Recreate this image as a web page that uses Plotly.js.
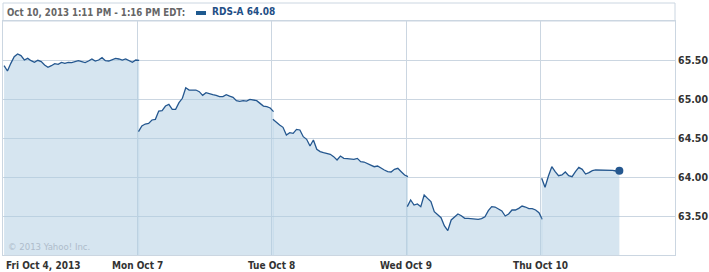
<!DOCTYPE html>
<html>
<head>
<meta charset="utf-8">
<script src="https://cdn.plot.ly/plotly-3.0.1.min.js"></script>
<style>
html,body{margin:0;padding:0;background:#fff;}
#chart{width:709px;height:272px;}
</style>
</head>
<body>
<div id="chart"></div>
<script>
// ---- data ----
const dayLabels = ['Fri Oct 4, 2013', 'Mon Oct 7', 'Tue Oct 8', 'Wed Oct 9', 'Thu Oct 10'];
const yTicks = [63.5, 64.0, 64.5, 65.0, 65.5];
const headerText = 'Oct 10, 2013 1:11 PM - 1:16 PM EDT:';
const seriesName = 'RDS-A';
const lastPrice = 64.08;
const copyright = '\u00A9 2013 Yahoo! Inc.';

const fri = [65.427, 65.359, 65.457, 65.543, 65.577, 65.556, 65.500, 65.521, 65.491, 65.470,
             65.496, 65.479, 65.436, 65.406, 65.427, 65.453, 65.444, 65.470, 65.457, 65.470,
             65.466, 65.479, 65.491, 65.479, 65.466, 65.487, 65.513, 65.487, 65.500, 65.530,
             65.491, 65.487, 65.500, 65.521, 65.513, 65.500, 65.513, 65.487, 65.470, 65.500, 65.496];
const mon = [64.581, 64.654, 64.679, 64.688, 64.731, 64.739, 64.846, 64.850, 64.910, 64.932,
             64.868, 64.868, 64.953, 65.009, 65.145, 65.115, 65.115, 65.115, 65.094, 65.047,
             65.081, 65.064, 65.056, 65.047, 65.030, 65.030, 65.056, 65.038, 65.021, 64.979,
             64.970, 64.979, 64.974, 64.996, 64.987, 64.979, 64.944, 64.910, 64.902, 64.885, 64.838];
const tue = [64.739, 64.697, 64.667, 64.637, 64.538, 64.568, 64.560, 64.611, 64.603, 64.517,
             64.483, 64.397, 64.474, 64.355, 64.325, 64.312, 64.303, 64.291, 64.261, 64.218,
             64.269, 64.239, 64.235, 64.231, 64.226, 64.239, 64.197, 64.192, 64.175, 64.154,
             64.132, 64.141, 64.111, 64.090, 64.068, 64.064, 64.098, 64.111, 64.068, 64.026, 64.004];
const wed = [63.620, 63.705, 63.641, 63.654, 63.620, 63.769, 63.726, 63.684, 63.556, 63.521,
             63.479, 63.372, 63.312, 63.449, 63.491, 63.526, 63.504, 63.470, 63.470, 63.466,
             63.457, 63.457, 63.466, 63.491, 63.568, 63.620, 63.615, 63.586, 63.564, 63.500,
             63.526, 63.577, 63.577, 63.598, 63.628, 63.615, 63.594, 63.594, 63.577, 63.543, 63.457];
const thu = [63.983, 63.868, 64.013, 64.132, 64.068, 64.017, 64.026, 64.064, 64.017, 64.004,
             64.068, 64.124, 64.098, 64.038, 64.056, 64.081, 64.090, 64.090, 64.090, 64.090,
             64.090, 64.085, 64.077, 64.080];

// sampling: one value every 10 minutes of a 390-minute session
const sessionMinutes = 390;
const stepMinutes = 10;
const days = [fri, mon, tue, wed, thu];

// ---- styles ----
const fontFam = 'Verdana, "DejaVu Sans Condensed", "DejaVu Sans", sans-serif';
const lineColor = '#24578f';
const fillColor = 'rgba(173,203,225,0.5)';
const gridColor = '#cbd6e1';
const labelFont = {family: fontFam, size: 10, color: '#333333', weight: 700};

const traces = days.map((vals, d) => ({
  type: 'scatter',
  mode: 'lines',
  x: vals.map((v, i) => d + 0.008 + (i * stepMinutes / sessionMinutes) * 0.98),
  y: vals,
  line: {color: lineColor, width: 1.3},
  fill: 'tozeroy',
  fillcolor: fillColor,
  hoverinfo: 'skip',
  showlegend: false
}));

// last point marker
const lastX = traces[4].x[traces[4].x.length - 1];
traces.push({
  type: 'scatter', mode: 'markers',
  x: [lastX], y: [thu[thu.length - 1]],
  marker: {color: lineColor, size: 8},
  showlegend: false, hoverinfo: 'skip'
});

const annotations = dayLabels.map((t, d) => ({
  text: t, xref: 'x', yref: 'paper', x: d, y: -0.043,
  xanchor: d === 0 ? 'left' : 'center', yanchor: 'middle',
  xshift: d === 0 ? 1 : 0,
  showarrow: false, font: labelFont
}));
annotations.push({
  text: seriesName + ' ' + lastPrice.toFixed(2), xref: 'paper', yref: 'paper',
  x: 0, y: 1.04, xanchor: 'left', yanchor: 'middle', xshift: 207,
  showarrow: false,
  font: {family: fontFam, size: 10, color: '#1f4f86', weight: 700}
});
annotations.push({
  text: copyright, xref: 'paper', yref: 'paper', x: 0, y: 0.035,
  xanchor: 'left', yanchor: 'middle', xshift: 3, showarrow: false,
  font: {family: fontFam, size: 9.5, color: '#aebccb'}
});

const layout = {
  width: 709, height: 272,
  margin: {l: 3, r: 34, t: 21, b: 17, pad: 0},
  paper_bgcolor: '#ffffff', plot_bgcolor: '#ffffff',
  showlegend: false,
  title: {
    text: headerText, xref: 'paper', yref: 'container', x: 0, xanchor: 'left',
    y: 1 - 13 / 272, yanchor: 'middle', pad: {l: 4},
    font: {family: fontFam, size: 9.6, color: '#666666', weight: 700}
  },
  xaxis: {
    range: [0, 5], tickvals: [1, 2, 3, 4], showticklabels: false, ticks: '',
    showgrid: true, gridcolor: gridColor, gridwidth: 1, zeroline: false,
    showline: true, linecolor: gridColor, linewidth: 1, mirror: true, fixedrange: true
  },
  yaxis: {
    range: [63, 66], side: 'right', tickvals: yTicks, tickformat: '.2f', ticks: '',
    showgrid: true, gridcolor: gridColor, gridwidth: 1, zeroline: false,
    showline: true, linecolor: gridColor, linewidth: 1, mirror: true,
    tickfont: {family: fontFam, size: 10.5, color: '#333333', weight: 700},
    fixedrange: true
  },
  shapes: [
    {type: 'rect', xref: 'paper', yref: 'paper', x0: 0, x1: 1, y0: 1, y1: 1 + 18 / 234,
     line: {color: gridColor, width: 1}, fillcolor: 'rgba(0,0,0,0)'},
    {type: 'rect', xref: 'paper', yref: 'paper', x0: 193 / 672, x1: 203 / 672,
     y0: 1 + 6 / 234, y1: 1 + 10 / 234, line: {width: 0}, fillcolor: '#1f5a8f'}
  ],
  annotations: annotations
};

Plotly.newPlot('chart', traces, layout, {displayModeBar: false, staticPlot: true});
</script>
</body>
</html>
